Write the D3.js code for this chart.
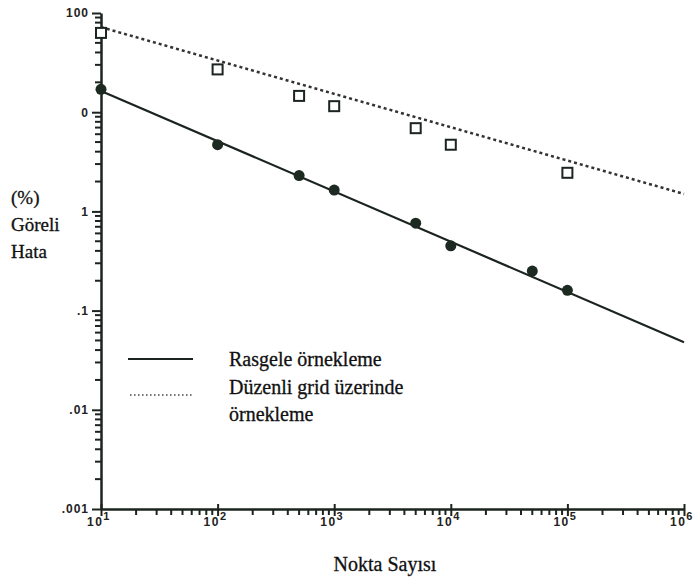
<!DOCTYPE html>
<html>
<head>
<meta charset="utf-8">
<script src="https://cdn.jsdelivr.net/npm/d3@7"></script>
<style>
  body { margin: 0; background: #fff; }
  svg { display: block; }
</style>
</head>
<body>
<div id="chart"></div>
<script>
// veri
var randomN = [10, 100, 500, 1000, 5000, 10000, 50000, 100000];
var randomErr = [17, 4.7, 2.3, 1.64, 0.76, 0.45, 0.25, 0.16];
var gridN = [10, 100, 500, 1000, 5000, 10000, 100000];
var gridErr = [63, 27, 14.6, 11.5, 6.9, 4.7, 2.45];
var fitN = [10, 1e6];
var randomFit = [16.4, 0.048];
var gridFit = [72, 1.5];
var yMajor = [100, 10, 1, 0.1, 0.01, 0.001];
var yLabels = ["100", "0", "1", ".1", ".01", ".001"];
var xMajor = [1e1, 1e2, 1e3, 1e4, 1e5, 1e6];
var xExp = ["1", "2", "3", "4", "5", "6"];
var legendText = [["Rasgele örnekleme"], ["Düzenli grid üzerinde", "örnekleme"]];

var width = 700,
    height = 581;

var ink = "#1b241f";

var svg = d3.select("#chart").append("svg")
    .attr("width", width)
    .attr("height", height);

var x = d3.scaleLog().domain([10, 1e6]).range([101, 684]);
var y = d3.scaleLog().domain([0.001, 100]).range([509, 13]);

// minor tick values (2..9 her onlukta)
function minors(lo, hi){
    var out = [];
    for (var e = Math.round(Math.log10(lo)); e < Math.round(Math.log10(hi)); e ++){
        for (var k = 2; k <= 9; k ++) out.push(k * Math.pow(10, e));
    }
    return out;
}

var x0 = x(10),
    y0 = y(0.001);

// y minor ticks
svg.append("g").selectAll("line")
    .data(minors(0.001, 100))
    .enter().append("line")
    .attr("x1", x0 - 6).attr("x2", x0)
    .attr("y1", function(d){ return y(d); })
    .attr("y2", function(d){ return y(d); })
    .attr("stroke", ink)
    .attr("stroke-width", 2);

// x minor ticks
svg.append("g").selectAll("line")
    .data(minors(10, 1e6))
    .enter().append("line")
    .attr("x1", function(d){ return x(d); })
    .attr("x2", function(d){ return x(d); })
    .attr("y1", y0).attr("y2", y0 + 6)
    .attr("stroke", ink)
    .attr("stroke-width", 2);

// y axis
svg.append("g")
    .attr("transform", "translate(" + x0 + ",0)")
    .call(d3.axisLeft(y).tickValues(yMajor).tickSize(9).tickSizeOuter(0)
        .tickFormat(function(d, i){ return yLabels[i]; }))
    .call(function(g){
        g.select(".domain").attr("stroke", ink).attr("stroke-width", 2.5);
        g.selectAll("line").attr("stroke", ink).attr("stroke-width", 2);
        g.selectAll("text")
            .attr("x", -12)
            .attr("fill", "#222")
            .style("font-family", "Liberation Sans, Arial, sans-serif")
            .style("font-size", "12px")
            .style("font-weight", "bold")
            .style("letter-spacing", "1px");
    });

// x axis
svg.append("g")
    .attr("transform", "translate(0," + y0 + ")")
    .call(d3.axisBottom(x).tickValues(xMajor).tickSize(7).tickSizeOuter(0).tickFormat(""))
    .call(function(g){
        g.select(".domain").attr("stroke", ink).attr("stroke-width", 2.5);
        g.selectAll("line").attr("y1", -5).attr("stroke", ink).attr("stroke-width", 2);
    });

var xl = svg.selectAll(".xlab")
    .data(xMajor)
    .enter().append("text")
    .attr("class", "xlab")
    .attr("x", function(d){ return x(d) - 2; })
    .attr("y", 526)
    .attr("text-anchor", "middle")
    .attr("fill", "#222")
    .style("font-family", "Liberation Sans, Arial, sans-serif")
    .style("font-size", "12px")
    .style("font-weight", "bold")
    .style("letter-spacing", "1.5px");
xl.append("tspan").text("10");
xl.append("tspan")
    .attr("dy", -6)
    .style("font-size", "11px")
    .text(function(d, i){ return xExp[i]; });

// fit lines
var line = d3.line()
    .x(function(d){ return x(d[0]); })
    .y(function(d){ return y(d[1]); });

svg.append("path")
    .datum(d3.zip(fitN, gridFit))
    .attr("d", line)
    .attr("fill", "none")
    .attr("stroke", "#333")
    .attr("stroke-width", 2.5)
    .attr("stroke-dasharray", "3,3");

svg.append("path")
    .datum(d3.zip(fitN, randomFit))
    .attr("d", line)
    .attr("fill", "none")
    .attr("stroke", ink)
    .attr("stroke-width", 2.2);

// points
svg.selectAll(".sq")
    .data(d3.zip(gridN, gridErr))
    .enter().append("rect")
    .attr("class", "sq")
    .attr("x", function(d){ return x(d[0]) - 5; })
    .attr("y", function(d){ return y(d[1]) - 5; })
    .attr("width", 10)
    .attr("height", 10)
    .attr("fill", "#fff")
    .attr("stroke", ink)
    .attr("stroke-width", 2);

svg.selectAll(".dot")
    .data(d3.zip(randomN, randomErr))
    .enter().append("circle")
    .attr("class", "dot")
    .attr("cx", function(d){ return x(d[0]); })
    .attr("cy", function(d){ return y(d[1]); })
    .attr("r", 5.5)
    .attr("fill", "#1c2a22");

// labels
var serif = "Liberation Serif, Times New Roman, serif";

var ylab = ["(%)", "Göreli", "Hata"];
for (var i = 0; i < ylab.length; i ++){
    svg.append("text")
        .attr("x", 11)
        .attr("y", 204 + i * 27)
        .text(ylab[i])
        .attr("fill", "#111")
        .attr("stroke", "#111")
        .attr("stroke-width", 0.3)
        .style("font-family", serif)
        .style("font-size", "19px");
}

svg.append("text")
    .attr("x", 385)
    .attr("y", 571)
    .attr("text-anchor", "middle")
    .text("Nokta Sayısı")
    .attr("fill", "#111")
    .attr("stroke", "#111")
    .attr("stroke-width", 0.3)
    .style("font-family", serif)
    .style("font-size", "20px");

// legend
svg.append("line")
    .attr("x1", 128).attr("x2", 193)
    .attr("y1", 359).attr("y2", 359)
    .attr("stroke", ink)
    .attr("stroke-width", 2);

svg.append("line")
    .attr("x1", 130).attr("x2", 192)
    .attr("y1", 395).attr("y2", 395)
    .attr("stroke", "#444")
    .attr("stroke-width", 1.5)
    .attr("stroke-dasharray", "1.5,2.5");

var rows = [366, 394, 421];
var r = 0;
legendText.forEach(function(item){
    item.forEach(function(t){
        svg.append("text")
            .attr("x", 229)
            .attr("y", rows[r])
            .text(t)
            .attr("fill", "#111")
            .attr("stroke", "#111")
            .attr("stroke-width", 0.3)
            .style("font-family", serif)
            .style("font-size", "20px");
        r ++;
    });
});
</script>
</body>
</html>
